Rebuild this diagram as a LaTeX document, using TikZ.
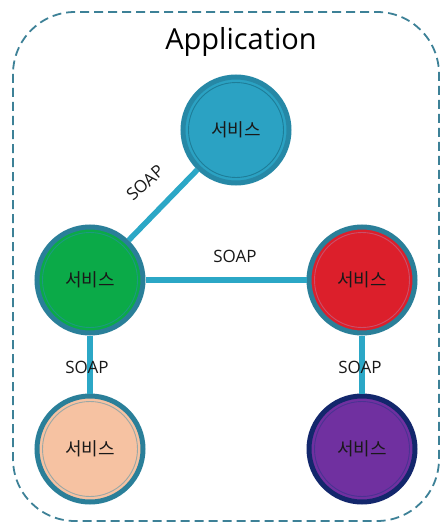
\documentclass[tikz,border=0pt]{standalone}
\usepackage{fontspec}
\setmainfont{Open Sans}
\newfontfamily\krfont{Noto Sans CJK KR}
\definecolor{linkc}{HTML}{2BA7C6}
\definecolor{framec}{HTML}{3D8197}
\definecolor{ringc}{HTML}{2A7F99}
\definecolor{topfill}{HTML}{2BA2C3}
\definecolor{topring}{HTML}{2688A6}
\definecolor{topline}{HTML}{1E7D98}
\definecolor{greenfill}{HTML}{0BAA48}
\definecolor{greenline}{HTML}{1C9A80}
\definecolor{redfill}{HTML}{DC1F2B}
\definecolor{redline}{HTML}{C9506A}
\definecolor{peachfill}{HTML}{F6C2A2}
\definecolor{peachline}{HTML}{9AA8A6}
\definecolor{purplefill}{HTML}{7030A0}
\definecolor{purplering}{HTML}{13276C}
\definecolor{purpleline}{HTML}{4A3292}
\begin{document}
\begin{tikzpicture}[x=1pt,y=-1pt,
  link/.style={draw=linkc,line width=5.5pt},
  lbl/.style={font=\fontsize{17}{17}\selectfont,text=black!90,inner sep=1pt},
  svc/.style args={#1/#2/#3}{circle,minimum size=106pt,inner sep=0pt,
    fill=#1,draw=#2,line width=5pt,font=\krfont\fontsize{18}{18}\selectfont,
    text=black!90,
    path picture={\draw[#3,line width=0.9pt]
      (path picture bounding box.center) circle[radius=47.5pt];}},
]
\useasboundingbox (0,0) rectangle (442,524);
\fill[white] (0,0) rectangle (442,524);

% dashed application frame
\draw[framec,line width=1.8pt,dash pattern=on 9pt off 5pt,rounded corners=62pt]
  (13,12) rectangle (439,521);
\node (title) at (241,42) {\fontsize{29}{29}\selectfont Application};

% services
\node[svc=topfill/topring/topline] (top) at (236,130) {서비스};
\node[svc=greenfill/ringc/greenline] (green) at (90,280) {서비스};
\node[svc=redfill/ringc/redline] (red) at (362,280) {서비스};
\node[svc=peachfill/ringc/peachline] (peach) at (90,449) {서비스};
\node[svc=purplefill/purplering/purpleline] (purple) at (362,449) {서비스};

% SOAP links
\draw[link] (top) -- (green);
\draw[link] (green) -- (red);
\draw[link] (green) -- (peach);
\draw[link] (red) -- (purple);

\node[lbl,rotate=42] (l1) at (145,183) {SOAP};
\node[lbl] (l2) at (235,256) {SOAP};
\node[lbl] (l3) at (87,367) {SOAP};
\node[lbl] (l4) at (360,367) {SOAP};
\end{tikzpicture}
\end{document}
